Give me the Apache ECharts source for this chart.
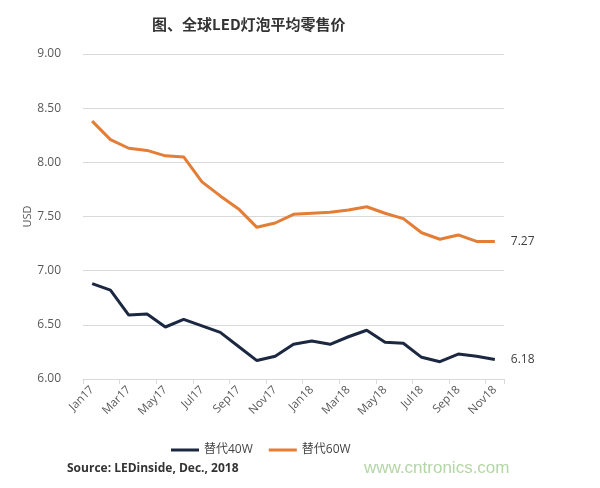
<!DOCTYPE html>
<html><head><meta charset="utf-8">
<script src="https://cdn.jsdelivr.net/npm/echarts@6/dist/echarts.min.js"></script>
<style>html,body{margin:0;padding:0;background:#fff}#c{width:600px;height:488px}</style>
</head><body><div id="c"></div>
<script>
const categories = ['Jan17','Feb17','Mar17','Apr17','May17','Jun17','Jul17','Aug17','Sep17','Oct17','Nov17','Dec17',
  'Jan18','Feb18','Mar18','Apr18','May18','Jun18','Jul18','Aug18','Sep18','Oct18','Nov18'];
const s40 = [6.88,6.82,6.59,6.60,6.48,6.55,6.49,6.43,6.30,6.17,6.21,6.32,6.35,6.32,6.39,6.45,6.34,6.33,6.20,6.16,6.23,6.21,6.18];
const s60 = [8.38,8.21,8.13,8.11,8.06,8.05,7.82,7.69,7.57,7.40,7.44,7.52,7.53,7.54,7.56,7.59,7.53,7.48,7.35,7.29,7.33,7.27,7.27];
const names = ['替代40W','替代60W'];
const yTicks = {min:6, max:9, step:0.5};

const chart = echarts.init(document.getElementById('c'));
const font = '"Open Sans", "Noto Sans CJK SC", sans-serif';
function mk(name, data, color){
  return {name, type:'line', data, symbol:'none', smooth:false,
    lineStyle:{width:3, color}, itemStyle:{color},
    endLabel:{show:true, distance:16, color:'#404040', fontSize:12, fontFamily:font,
      formatter: p => p.value.toFixed(2)}};
}
chart.setOption({
  animation:false,
  title:{text:'图、全球LED灯泡平均零售价', left:147, top:12,
    textStyle:{fontSize:15, fontWeight:'bold', color:'#333', fontFamily:'"Noto Sans CJK SC", sans-serif'}},
  grid:{left:83, right:96, top:54, bottom:109},
  legend:{data:names, top:439, left:166, itemWidth:28, itemHeight:3, itemGap:16,
    icon:'rect', textStyle:{fontSize:12, color:'#444', fontFamily:font}},
  xAxis:{type:'category', data:categories, boundaryGap:true,
    axisLine:{lineStyle:{color:'#d9d9d9'}},
    axisTick:{show:true, interval:1, lineStyle:{color:'#d9d9d9'}},
    axisLabel:{interval:1, rotate:45, color:'#595959', fontSize:11.5, fontFamily:font, margin:9}},
  yAxis:{type:'value', min:yTicks.min, max:yTicks.max, interval:yTicks.step,
    name:'USD', nameLocation:'middle', nameGap:50, nameRotate:90, nameMoveOverlap:false,
    nameTextStyle:{color:'#595959', fontSize:11, fontFamily:font},
    axisLine:{show:false}, axisTick:{show:false},
    splitLine:{lineStyle:{color:'#d9d9d9'}},
    axisLabel:{color:'#595959', fontSize:12, fontFamily:font, margin:22, formatter: v => v.toFixed(2)}},
  series:[mk(names[0], s40, '#1c2841'), mk(names[1], s60, '#e47d35')],
  graphic:[
    {type:'text', left:67, top:463, style:{text:'Source: LEDinside, Dec., 2018', fontSize:12, fontWeight:'bold', fill:'#333', fontFamily:font}},
    {type:'text', left:364, top:460, style:{text:'www.cntronics.com', fontSize:17, fill:'#b3d6a6', fontFamily:'"Liberation Sans", Arial, sans-serif'}}
  ]
});
</script></body></html>
